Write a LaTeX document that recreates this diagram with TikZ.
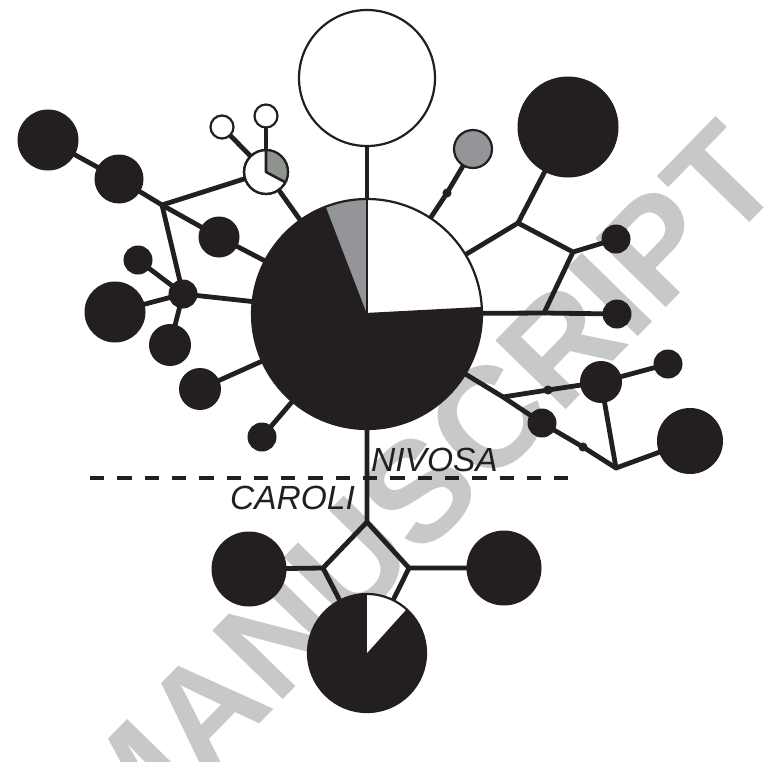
\documentclass[tikz,border=0pt]{standalone}
\usepackage{fontspec}
\setsansfont{Liberation Sans}
\usetikzlibrary{backgrounds,calc}
\definecolor{hblack}{HTML}{231F20}
\definecolor{hgray}{HTML}{939598}
\definecolor{pgray}{HTML}{8F948F}
\definecolor{wmgray}{HTML}{C7C8CA}
\begin{document}
\begin{tikzpicture}[x=1pt,y=-1pt,
  blk/.style={circle,fill=hblack,draw=hblack,line width=1pt,inner sep=0pt,outer sep=0pt},
  wht/.style={circle,fill=white,draw=hblack,line width=2.2pt,inner sep=0pt,outer sep=0pt},
  gry/.style={circle,fill=hgray,draw=hblack,line width=2.2pt,inner sep=0pt,outer sep=0pt},
  sz/.style={minimum size=#1pt},
  link/.style={draw=hblack,line width=4.8pt,line cap=round,line join=round},
  sector/.style={draw=hblack,line width=2.2pt},
  lbl/.style={font=\sffamily\itshape\fontsize{33.5}{33.5}\selectfont,text=hblack,inner sep=0pt},
  wm/.style={font=\sffamily\bfseries\fontsize{143}{143}\selectfont,text=wmgray,inner sep=0pt},
]
\clip (0,0) rectangle (769,761);
% nodes
\node[wht,sz=136] (top) at (367,78) {};
\node[blk,sz=230] (main) at (367,314) {};
\node[gry,sz=38] (gr) at (473,149) {};
\node[blk,sz=8] (d1) at (447,193) {};
\node[blk,sz=100] (tr) at (568,127) {};
\coordinate (J3) at (518,223);
\coordinate (J4) at (573,252);
\coordinate (J5) at (544,313);
\node[blk,sz=28] (r1) at (616,239) {};
\node[blk,sz=28] (r2) at (617,314) {};
\coordinate (J6) at (503,397);
\node[blk,sz=8] (d2) at (548,390) {};
\node[blk,sz=28] (c1) at (542,423) {};
\node[blk,sz=8] (d3) at (583,447) {};
\coordinate (J7) at (616,468);
\node[blk,sz=41] (c2) at (601,382) {};
\node[blk,sz=28] (c3) at (668,364) {};
\node[blk,sz=65] (c4) at (690,441) {};
\node[wht,sz=44] (pie2) at (266,172) {};
\node[wht,sz=23] (w1) at (222,127) {};
\node[wht,sz=23] (w2) at (266,116) {};
\node[blk,sz=60] (b1) at (48,140) {};
\node[blk,sz=48] (b2) at (119,179) {};
\coordinate (J1) at (162,205);
\node[blk,sz=40] (b3) at (219,237) {};
\node[blk,sz=28] (J2) at (183,294) {};
\node[blk,sz=28] (b4) at (138,260) {};
\node[blk,sz=60] (b5) at (115,312) {};
\node[blk,sz=41] (b6) at (170,345) {};
\node[blk,sz=41] (b7) at (200,389) {};
\node[blk,sz=28] (b8) at (262,437) {};
\coordinate (J8) at (367,522);
\coordinate (J9) at (323,568);
\coordinate (J10) at (409,568);
\node[blk,sz=74] (bl) at (249,569) {};
\node[blk,sz=74] (br) at (504,568) {};
\node[blk,sz=118] (pie3) at (367,653) {};
% pie sectors
\fill[white] (main.center) -- ++(-90:115) arc[start angle=-90,end angle=-3,radius=115] -- cycle;
\fill[hgray] (main.center) -- ++(-90:115) arc[start angle=-90,end angle=-111,radius=115] -- cycle;
\draw[sector] (main.center) circle[radius=115];
\draw[sector] (main.center) -- ++(-90:115);
\draw[sector] (main.center) -- ++(-3:115);
\fill[pgray] (pie2.center) -- ++(-90:22) arc[start angle=-90,end angle=28,radius=22] -- cycle;
\draw[sector] (pie2.center) circle[radius=22];
\draw[sector,line width=2.6pt,line join=round] ($(pie2.center)+(-90:22)$) -- (pie2.center) -- ++(28:22);
\fill[white] (pie3.center) -- ++(-90:59) arc[start angle=-90,end angle=-48,radius=59] -- cycle;
\draw[sector] (pie3.center) circle[radius=59];
% dashed divider and labels
\coordinate (dl) at (90,478);
\coordinate (dr) at (570,478);
\draw[hblack,line width=4.8pt,dash pattern=on 14.3pt off 13pt] (dl) -- (dr);
\node[lbl,anchor=base west] (niv) at (371,471) {NIVOSA};
\node[lbl,anchor=base west] (car) at (230,509) {CAROLI};
% background: watermark and connectors
\begin{pgfonlayer}{background}
\node[wm,rotate=45.7] (wmark) at (419,490.5) {MANUSCRIPT};
\draw[link] (top.center) -- (main.center);
\draw[link] (gr.center) -- (d1.center) -- (main.center);
\draw[link] (tr.center) -- (J3) -- (J4) -- (r1.center);
\draw[link] (main.center) -- (J3);
\draw[link] (J4) -- (J5);
\draw[link] (main.center) -- (J5) -- (r2.center);
\draw[link] (main.center) -- (J6) -- (c1.center) -- (d3.center) -- (J7);
\draw[link] (J6) -- (d2.center) -- (c2.center) -- (c3.center);
\draw[link] (c2.center) -- (J7) -- (c4.center);
\draw[link] (w1.center) -- (pie2.center);
\draw[link] (w2.center) -- (pie2.center);
\draw[link] (J1) -- (pie2.center) -- (main.center);
\draw[link] (b1.center) -- (b2.center) -- (J1) -- (b3.center) -- (main.center);
\draw[link] (J1) -- (J2.center);
\draw[link] (b4.center) -- (J2.center);
\draw[link] (b5.center) -- (J2.center) -- (b6.center);
\draw[link] (J2.center) -- (main.center);
\draw[link] (b7.center) -- (main.center);
\draw[link] (b8.center) -- (main.center);
\draw[link] (main.center) -- (J8) -- (J9) -- (bl.center);
\draw[link] (J8) -- (J10) -- (br.center);
\draw[link] (J9) -- (pie3.center);
\draw[link] (J10) -- (pie3.center);
\end{pgfonlayer}
\end{tikzpicture}
\end{document}
